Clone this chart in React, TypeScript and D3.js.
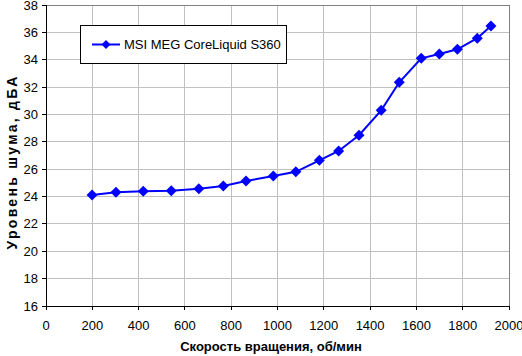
import React from "react";
import * as d3 from "d3";

const speeds = [199, 302, 420, 541, 660, 766, 864, 982, 1079, 1181, 1264, 1352, 1448, 1526, 1621, 1699, 1777, 1863, 1922];
const noise = [24.11, 24.31, 24.38, 24.43, 24.57, 24.77, 25.13, 25.5, 25.81, 26.65, 27.33, 28.48, 30.3, 32.35, 34.1, 34.42, 34.76, 35.57, 36.46];
const xTicks = [0, 200, 400, 600, 800, 1000, 1200, 1400, 1600, 1800, 2000];
const yTicks = [16, 18, 20, 22, 24, 26, 28, 30, 32, 34, 36, 38];
const seriesName = "MSI MEG CoreLiquid S360";
const xTitle = "Скорость вращения, об/мин";
const yTitle = "Уровень шума, дБА";

export default function App() {
  const W = 522, H = 356;
  const left = 46, right = 509, top = 5, bottom = 306;
  const x = d3.scaleLinear().domain([0, 2000]).range([left, right]);
  const y = d3.scaleLinear().domain([16, 38]).range([bottom, top]);
  const pts = speeds.map((s, i) => [x(s), y(noise[i])] as [number, number]);
  const line = d3.line()(pts) || "";
  const font = "Arial, 'Liberation Sans', sans-serif";
  const diamond = (cx: number, cy: number, r = 5.5) =>
    `M${cx},${cy - r}L${cx + r},${cy}L${cx},${cy + r}L${cx - r},${cy}Z`;
  return (
    <svg width={W} height={H} style={{ position: "absolute", left: 0, top: 0, background: "#fff" }}>
      <rect x={0} y={0} width={W} height={H} fill="#fff" />
      {xTicks.slice(1).map((t) => (
        <line key={"gx" + t} x1={x(t)} x2={x(t)} y1={top} y2={bottom} stroke="#c0c0c0" strokeWidth={1} shapeRendering="crispEdges" />
      ))}
      {yTicks.slice(1).map((t) => (
        <line key={"gy" + t} x1={left} x2={right} y1={y(t)} y2={y(t)} stroke="#c0c0c0" strokeWidth={1} shapeRendering="crispEdges" />
      ))}
      <line x1={right} x2={right} y1={top} y2={bottom} stroke="#808080" shapeRendering="crispEdges" />
      <line x1={left} x2={right} y1={top} y2={top} stroke="#808080" shapeRendering="crispEdges" />
      <line x1={left} x2={left} y1={top} y2={bottom} stroke="#000" shapeRendering="crispEdges" />
      <line x1={left} x2={right} y1={bottom} y2={bottom} stroke="#000" shapeRendering="crispEdges" />
      {yTicks.map((t) => (
        <g key={"ty" + t}>
          <line x1={left - 4} x2={left} y1={y(t)} y2={y(t)} stroke="#000" shapeRendering="crispEdges" />
          <text x={left - 8} y={y(t) + 4.5} textAnchor="end" fontFamily={font} fontSize={13} fill="#000">{t}</text>
        </g>
      ))}
      {xTicks.map((t) => (
        <g key={"tx" + t}>
          <line x1={x(t)} x2={x(t)} y1={bottom} y2={bottom + 4} stroke="#000" shapeRendering="crispEdges" />
          <text x={x(t)} y={330} textAnchor="middle" fontFamily={font} fontSize={13} fill="#000">{t}</text>
        </g>
      ))}
      <text x={271} y={351} textAnchor="middle" fontFamily={font} fontSize={13} fontWeight="bold" fill="#000">{xTitle}</text>
      <text transform={`translate(17,162) rotate(-90)`} textAnchor="middle" fontFamily={font} fontSize={14} fontWeight="bold" letterSpacing={2.3} fill="#000">{yTitle}</text>
      <path d={line} fill="none" stroke="#0000ff" strokeWidth={2} />
      {pts.map(([cx, cy], i) => (
        <path key={"m" + i} d={diamond(cx, cy)} fill="#0000ff" />
      ))}
      <rect x={80.5} y={25.5} width={206} height={38} fill="#fff" stroke="#000" strokeWidth={1} />
      <line x1={92} x2={120} y1={44.5} y2={44.5} stroke="#0000ff" strokeWidth={2} />
      <path d={diamond(106, 44.5, 4.5)} fill="#0000ff" />
      <text x={124} y={49} fontFamily={font} fontSize={13} fill="#000">{seriesName}</text>
    </svg>
  );
}
